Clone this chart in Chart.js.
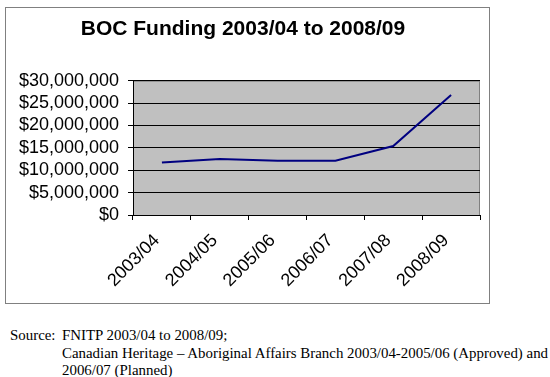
<!DOCTYPE html>
<html>
<head>
<meta charset="utf-8">
<script src="https://cdn.jsdelivr.net/npm/chart.js@4/dist/chart.umd.min.js"></script>
<style>
  html, body { margin: 0; padding: 0; background: #fff; }
  body { width: 550px; height: 377px; position: relative; overflow: hidden; }
  #box { position: absolute; left: 5px; top: 7px; width: 483px; height: 295px; border: 1px solid #808080; }
  #box canvas { display: block; }
  .src { position: absolute; font-family: "Liberation Serif", "Times New Roman", serif; font-size: 14.9px; line-height: 17.5px; color: #000; white-space: nowrap; }
</style>
</head>
<body>
<div id="box"><canvas id="c" width="483" height="295"></canvas></div>
<div class="src" style="left:10px; top:327px;">Source:</div>
<div class="src" style="left:62px; top:327px;">FNITP 2003/04 to 2008/09;<br>Canadian Heritage – Aboriginal Affairs Branch 2003/04-2005/06 (Approved) and<br>2006/07 (Planned)</div>
<script>
const categories = ["2003/04", "2004/05", "2005/06", "2006/07", "2007/08", "2008/09"];
const funding = [11700000, 12500000, 12100000, 12100000, 15400000, 26800000];
const yTicks = [0, 5000000, 10000000, 15000000, 20000000, 25000000, 30000000];
const chartTitle = "BOC Funding 2003/04 to 2008/09";

const plotBg = {
  id: 'plotBg',
  beforeDraw(chart) {
    const a = chart.chartArea, ctx = chart.ctx;
    ctx.save();
    ctx.fillStyle = '#c0c0c0';
    ctx.fillRect(a.left, a.top, a.right - a.left, a.bottom - a.top);
    ctx.strokeStyle = '#808080';
    ctx.lineWidth = 1;
    ctx.strokeRect(a.left + 0.5, a.top + 0.5, a.right - a.left - 1, a.bottom - a.top);
    ctx.restore();
  }
};

new Chart(document.getElementById('c'), {
  type: 'line',
  data: {
    labels: categories,
    datasets: [{
      data: funding,
      borderColor: '#000080',
      borderWidth: 2,
      pointRadius: 0,
      tension: 0,
      fill: false
    }]
  },
  options: {
    responsive: false,
    animation: false,
    devicePixelRatio: 1,
    layout: { padding: { left: 0, right: 9, top: 0, bottom: 0 } },
    plugins: {
      legend: { display: false },
      tooltip: { enabled: false },
      title: {
        display: true,
        text: chartTitle,
        color: '#000',
        font: { family: 'Liberation Sans, Arial, sans-serif', size: 21, weight: 'bold' },
        padding: { top: 9, bottom: 38.5 }
      }
    },
    scales: {
      x: {
        type: 'category',
        offset: true,
        grid: { offset: true, drawOnChartArea: false, tickLength: 5, color: '#000', tickColor: '#000' },
        border: { color: '#000', width: 1 },
        ticks: {
          color: '#000',
          font: { family: 'Liberation Sans, Arial, sans-serif', size: 18 },
          minRotation: 45, maxRotation: 45, padding: 10, labelOffset: -5, autoSkip: false
        },
        afterFit(scale) { scale.height = 88; }
      },
      y: {
        min: 0, max: 30000000,
        afterBuildTicks(scale) { scale.ticks = yTicks.map(v => ({ value: v })); },
        grid: { color: '#000', tickColor: '#000', tickLength: 5, lineWidth: 1 },
        border: { color: '#000', width: 1 },
        ticks: {
          color: '#000',
          autoSkip: false,
          font: { family: 'Liberation Sans, Arial, sans-serif', size: 18 },
          padding: 9,
          callback: v => '$' + Number(v).toLocaleString('en-US')
        },
        afterFit(scale) { scale.width = 127; }
      }
    }
  },
  plugins: [plotBg]
});
</script>
</body>
</html>
